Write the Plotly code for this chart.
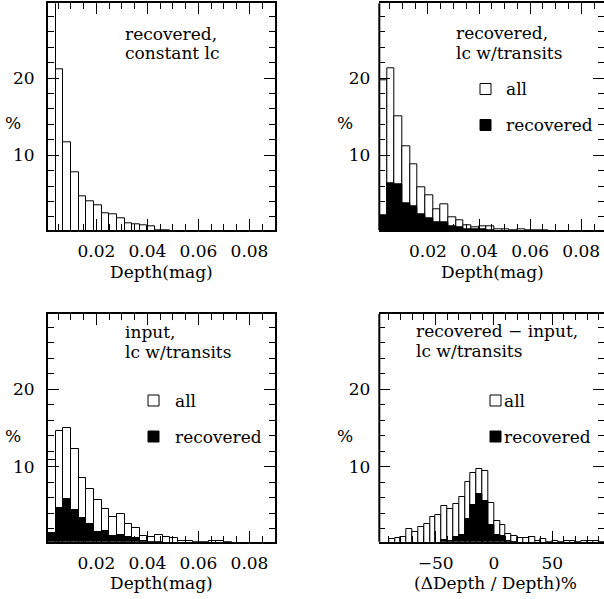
import numpy as np
import plotly.graph_objects as go

FONT = "DejaVu Serif"
FS = 17
W, H = 604, 599

# ---- histogram data (percent per bin) ----
# depth bins: lower edges, width 0.003 mag
depth_bin_lo = np.round(0.001 + 0.003 * np.arange(30), 4)
depth_bin_w = 0.003

# recovered depths, constant light curves
const_all = [31.0, 21.1, 11.7, 7.8, 4.7, 4.0, 3.45, 2.5, 2.3, 1.83,
             1.15, 0.98, 0.89, 0.72, 0.25, 0.2, 0.15, 0.1, 0.1, 0.1,
             0.05, 0.05, 0.05, 0.0, 0.0, 0.0, 0.0, 0.0, 0.0, 0.0]

# recovered depths, light curves with transits
trrec_all = [19.7, 21.3, 15.1, 11.1, 8.8, 5.86, 4.8, 3.05, 3.6, 2.0,
             1.6, 0.96, 0.68, 0.84, 0.73, 0.4, 0.35, 0.32, 0.45, 0.3,
             0.25, 0.2, 0.15, 0.1, 0.1, 0.05, 0.05, 0.05, 0.0, 0.0]
trrec_rec = [2.2, 6.35, 6.22, 3.72, 3.43, 2.32, 1.82, 1.28, 1.24, 0.81,
             0.7, 0.45, 0.4, 0.35, 0.2, 0.1, 0.0, 0.0, 0.0, 0.0,
             0.0, 0.0, 0.0, 0.0, 0.0, 0.0, 0.0, 0.0, 0.0, 0.0]

# input depths, light curves with transits
input_all = [10.8, 14.56, 14.95, 12.27, 8.57, 7.05, 5.66, 4.57, 3.48, 3.92,
             2.62, 2.05, 1.1, 0.97, 1.19, 0.87, 0.74, 0.44, 0.35, 0.3,
             0.25, 0.42, 0.4, 0.2, 0.15, 0.1, 0.1, 0.05, 0.05, 0.0]
input_rec = [1.4, 4.7, 5.79, 4.35, 3.31, 2.53, 1.53, 1.66, 1.1, 1.19,
             0.87, 0.79, 0.35, 0.3, 0.2, 0.1, 0.0, 0.0, 0.0, 0.0,
             0.0, 0.0, 0.0, 0.0, 0.0, 0.0, 0.0, 0.0, 0.0, 0.0]

# relative depth difference bins: lower edges, width 5 %
ratio_bin_lo = np.arange(-100, 95, 5)
ratio_bin_w = 5
ratio_all = [0.0, 0.0, 0.69, 0.78, 0.95, 1.92, 1.53, 2.18, 2.57, 3.48,
             3.78, 4.86, 4.56, 5.18, 6.04, 8.04, 9.17, 9.69, 9.39, 5.35,
             2.91, 2.48, 1.30, 1.00, 0.74, 0.82, 0.87, 0.43, 0.61, 0.3,
             0.35, 0.3, 0.35, 0.4, 0.3, 0.4, 0.45, 0.4, 0.3]
ratio_rec = [0.0, 0.0, 0.0, 0.0, 0.0, 0.0, 0.0, 0.0, 0.0, 0.0,
             0.0, 0.52, 0.35, 0.95, 1.13, 3.22, 5.05, 6.48, 5.57, 2.48,
             1.13, 1.04, 0.35, 0.3, 0.0, 0.0, 0.0, 0.0, 0.0, 0.0,
             0.0, 0.0, 0.0, 0.0, 0.0, 0.0, 0.0, 0.0, 0.0]

depth_ticks = [0.02, 0.04, 0.06, 0.08]
ratio_ticks = [-50, 0, 50]
pct_ticks = [10, 20]


def px(x):
    return x / W


def py(y):
    return 1 - y / H


fig = go.Figure()


def add_hist(lo, width, vals, fill, ax):
    fig.add_trace(go.Bar(
        x=np.asarray(lo) + width / 2, y=vals, width=width,
        marker=dict(color=fill, line=dict(color="black", width=1)),
        xaxis="x" + ax, yaxis="y" + ax, showlegend=False,
        hoverinfo="x+y"))


add_hist(depth_bin_lo, depth_bin_w, const_all, "white", "")
add_hist(depth_bin_lo, depth_bin_w, trrec_all, "white", "2")
add_hist(depth_bin_lo, depth_bin_w, trrec_rec, "black", "2")
add_hist(depth_bin_lo, depth_bin_w, input_all, "white", "3")
add_hist(depth_bin_lo, depth_bin_w, input_rec, "black", "3")
add_hist(ratio_bin_lo, ratio_bin_w, ratio_all, "white", "4")
add_hist(ratio_bin_lo, ratio_bin_w, ratio_rec, "black", "4")


def minor_ticks(step):
    return dict(ticks="inside", ticklen=6, tickwidth=1.2, tickcolor="black",
                dtick=step, tick0=0, showgrid=False)


def axis_common(**kw):
    d = dict(showline=True, linewidth=2, linecolor="black", mirror="ticks",
             ticks="inside", ticklen=11, tickwidth=1.3, tickcolor="black",
             showgrid=False, zeroline=False,
             tickfont=dict(family=FONT, size=FS, color="black"))
    d.update(kw)
    return d


def x_depth(domain, rng, anchor):
    return axis_common(domain=domain, range=rng, anchor=anchor,
                       tickmode="array", tickvals=depth_ticks,
                       ticktext=[f"{t:.2f}" for t in depth_ticks],
                       ticklabelstandoff=5, minor=minor_ticks(0.005))


def y_pct(domain, anchor, line=True):
    return axis_common(domain=domain, range=[0.3, 29.7], anchor=anchor,
                       tickmode="array", tickvals=pct_ticks,
                       ticklabelstandoff=8, showline=line,
                       minor=minor_ticks(2))


xl = [px(48), px(275)]
xr = [px(379.3), 1.0]
yt = [py(230), py(3.3)]
yb = [py(541.7), py(314)]

fig.update_layout(
    xaxis=x_depth(xl, [0.001, 0.09], "y"),
    yaxis=y_pct(yt, "x"),
    xaxis2=x_depth(xr, [0.001, 0.0889], "y2"),
    yaxis2=y_pct(yt, "x2", line=False),
    xaxis3=x_depth(xl, [0.001, 0.09], "y3"),
    yaxis3=y_pct(yb, "x3"),
    xaxis4=axis_common(domain=xr, range=[-98.3, 94.3], anchor="y4",
                       tickmode="array", tickvals=ratio_ticks,
                       ticklabelstandoff=5, minor=minor_ticks(10)),
    yaxis4=y_pct(yb, "x4", line=False),
    barmode="overlay",
    bargap=0,
    width=W, height=H,
    margin=dict(l=0, r=0, t=0, b=0),
    paper_bgcolor="white", plot_bgcolor="white",
    font=dict(family=FONT, size=FS, color="black"),
)

annots = []
shapes = []


def text(x, y, s, anchor="left", size=FS):
    annots.append(dict(x=px(x), y=py(y), xref="paper", yref="paper",
                       text=s, showarrow=False, xanchor=anchor,
                       yanchor="middle",
                       font=dict(family=FONT, size=size, color="black")))


# left frame edge of the right-hand panels (their right edge runs off the page)
for ax in ("2", "4"):
    shapes.append(dict(type="line", xref=f"x{ax} domain", yref=f"y{ax} domain",
                       x0=0, x1=0, y0=0, y1=1,
                       line=dict(color="black", width=2)))

# panel captions
text(122.7, 33.5, "recovered,")
text(122.7, 53.5, "constant lc")
text(454.3, 33, "recovered,")
text(454.3, 53, "lc w/transits")
text(123.3, 331.5, "input,")
text(123.3, 351.5, "lc w/transits")
text(414.3, 330.5, "recovered − input,")
text(414.3, 350.5, "lc w/transits")

# axis titles
for xc, yc in [(13, 122.7), (344.5, 122.7), (13, 436), (344.5, 436)]:
    text(xc, yc, "%", "center")
text(161.5, 271.7, "Depth(mag)", "center")
text(492.8, 271.7, "Depth(mag)", "center")
text(161.5, 583.3, "Depth(mag)", "center")
text(495, 583.3, "(ΔDepth / Depth)%", "center")


def key(x0, y0, fill, label, tx):
    shapes.append(dict(type="rect", xref="paper", yref="paper",
                       x0=px(x0), x1=px(x0 + 11), y0=py(y0 + 11), y1=py(y0),
                       fillcolor=fill, line=dict(color="black", width=1)))
    text(tx, y0 + 5.5, label)


key(480, 83.5, "white", "all", 503.5)
key(480, 119.5, "black", "recovered", 503.5)
key(148, 395, "white", "all", 173)
key(148, 431, "black", "recovered", 173)
key(490, 395, "white", "all", 501.5)
key(490, 431, "black", "recovered", 501.5)

fig.update_layout(annotations=annots, shapes=shapes)

fig.write_html("out.html")
